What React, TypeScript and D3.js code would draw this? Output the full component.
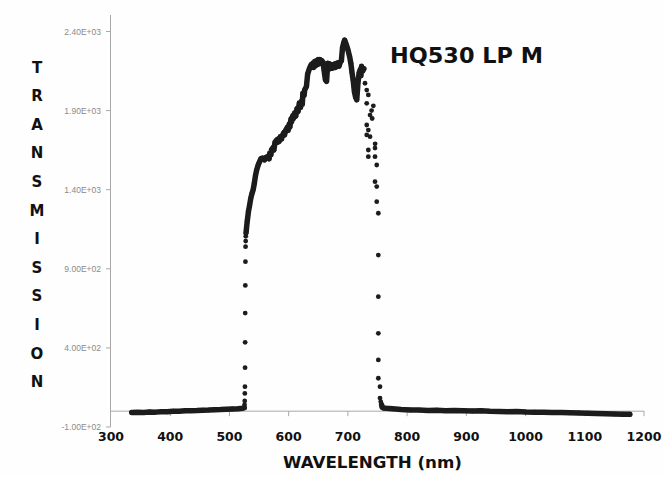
import React from "react";
import * as d3 from "d3";

const TITLE = "HQ530 LP M";
const X_LABEL = "WAVELENGTH (nm)";
const Y_LABEL = "TRANSMISSION";
const X_TICKS = [300, 400, 500, 600, 700, 800, 900, 1000, 1100, 1200];
const Y_TICKS = [2400, 1900, 1400, 900, 400, -100];
const Y_TICK_LABELS = ["2.40E+03", "1.90E+03", "1.40E+03", "9.00E+02", "4.00E+02", "-1.00E+02"];

// dense segments (wavelength nm, transmission)
const leftBaseline: [number, number][] = [
  [335, -8], [345, -7], [355, -8], [365, -5], [375, -6], [385, -3], [395, -4], [405, 0],
  [415, -1], [425, 2], [435, 3], [445, 4], [455, 6], [465, 7], [475, 9], [485, 10],
  [495, 12], [505, 14], [515, 16], [522, 18], [525, 22],
];

const passband: [number, number][] = [
  [528, 1126], [530, 1200], [532, 1260], [534, 1300], [536, 1345], [538, 1375], [540, 1400],
  [542, 1440], [544, 1490], [546, 1525], [548, 1550], [550, 1570], [553, 1595], [556, 1600],
  [559, 1588], [562, 1605], [565, 1610], [567, 1595], [568, 1630], [570, 1620], [571, 1652],
  [574, 1668], [575, 1650], [577, 1700], [580, 1715], [581, 1700], [583, 1722], [584, 1705],
  [586, 1735], [588, 1720], [589, 1740], [592, 1762], [593, 1745], [595, 1775], [598, 1795],
  [599, 1775], [601, 1815], [602, 1795], [604, 1848], [605, 1830], [607, 1868], [608, 1850],
  [610, 1885], [612, 1865], [614, 1912], [616, 1895], [618, 1948], [620, 1920], [622, 1962],
  [623, 1940], [624, 2010], [626, 1995], [627, 2030], [630, 2052], [632, 2130], [635, 2165],
  [638, 2190], [641, 2200], [642, 2172], [644, 2210], [645, 2182], [647, 2215], [648, 2190],
  [650, 2222], [651, 2195], [653, 2222], [656, 2215], [658, 2205], [660, 2150], [662, 2095],
  [664, 2085], [666, 2200], [667, 2175], [669, 2195], [670, 2165], [672, 2190], [674, 2168],
  [675, 2188], [678, 2195], [679, 2172], [681, 2200], [684, 2202], [685, 2180], [687, 2205],
  [689, 2215], [691, 2300], [693, 2330], [694.5, 2346], [697, 2320], [700, 2285], [703, 2240],
  [705, 2200], [707, 2140], [709, 2090], [711, 2020], [713, 1985], [715, 1968], [717, 2075],
  [719, 2140], [721, 2160], [722, 2120], [723, 2180], [725, 2150], [727, 2165],
];

const rightBaseline: [number, number][] = [
  [757, 40], [758, 25], [760, 20], [765, 18], [775, 15], [790, 10], [805, 8], [820, 7],
  [835, 5], [850, 6], [865, 3], [880, 4], [895, 2], [910, 1], [925, 2], [940, -1],
  [955, -2], [970, -3], [985, -2], [1000, -5], [1015, -6], [1030, -7], [1045, -8],
  [1060, -9], [1075, -10], [1090, -11], [1105, -13], [1120, -14], [1135, -16],
  [1150, -18], [1165, -19], [1176, -20],
];

// sparse points on the edges
const risingEdge: [number, number][] = [
  [525.5, 40], [525.8, 65], [526, 112], [526.2, 155], [526.4, 275], [526.5, 435],
  [526.6, 620], [526.8, 795], [527, 945], [527.2, 1040], [527.4, 1075], [527.6, 1105],
];

const fallingEdge: [number, number][] = [
  [728.9, 2073], [731.8, 2030], [734.5, 1999], [731.8, 1946], [737.4, 1872], [740, 1900],
  [741, 1850], [743, 1930], [731.8, 1809], [734.5, 1777], [731.8, 1746], [737.4, 1735],
  [734.5, 1651], [734.5, 1609], [745.8, 1663], [745.8, 1609], [748.7, 1556], [746, 1690],
  [745.8, 1451], [748.7, 1420], [748.7, 1324], [751.4, 1251], [751.4, 987], [751.4, 724],
  [751.4, 492], [751.4, 324], [751.4, 208], [754.2, 155], [754.2, 83], [755.5, 60],
];

const W = 663;
const H = 477;

export default function App() {
  const x = d3.scaleLinear().domain([300, 1200]).range([111, 644]);
  const y = d3.scaleLinear().domain([-100, 2400]).range([427, 31.5]);
  const line = d3
    .line<[number, number]>()
    .x((d) => x(d[0]))
    .y((d) => y(d[1]));
  const ink = "#1c1c1c";
  const axisCol = "#a8a8a8";
  const segs = [leftBaseline, passband, rightBaseline];
  const dots = [...leftBaseline, ...passband, ...rightBaseline, ...risingEdge, ...fallingEdge];

  return (
    <svg
      width={W}
      height={H}
      style={{ position: "absolute", left: 0, top: 0, display: "block", background: "#fff" }}
    >
      <rect x={0} y={0} width={W} height={H} fill="#fefefe" />
      {/* y axis */}
      <line x1={110.5} x2={110.5} y1={15} y2={y(-100)} stroke={axisCol} strokeWidth={1} />
      {Y_TICKS.map((t, i) => (
        <g key={t}>
          <line x1={106} x2={110.5} y1={y(t)} y2={y(t)} stroke={axisCol} />
          <text
            x={101}
            y={y(t) + 3}
            textAnchor="end"
            fontFamily="Liberation Sans, Arial, sans-serif"
            fontSize={8.5}
            fill="#8a8a8a"
          >
            {Y_TICK_LABELS[i]}
          </text>
        </g>
      ))}
      {/* x axis at 0 */}
      <line x1={110.5} x2={x(1200)} y1={y(0)} y2={y(0)} stroke={axisCol} strokeWidth={1} />
      {X_TICKS.map((t) => (
        <g key={t}>
          {t > 300 && <line x1={x(t)} x2={x(t)} y1={y(0)} y2={y(0) + 5} stroke={axisCol} />}
          <text
            x={x(t)}
            y={441}
            textAnchor="middle"
            fontFamily="DejaVu Sans, sans-serif"
            fontWeight="bold"
            fontSize={12.5}
            fill="#111"
          >
            {t}
          </text>
        </g>
      ))}
      {/* data */}
      {segs.map((s, i) => (
        <path
          key={i}
          d={line(s) || ""}
          fill="none"
          stroke={ink}
          strokeWidth={5.5}
          strokeLinejoin="round"
          strokeLinecap="round"
        />
      ))}
      {dots.map((d, i) => (
        <circle key={i} cx={x(d[0])} cy={y(d[1])} r={2.4} fill={ink} />
      ))}
      {/* title */}
      <text
        x={390}
        y={63}
        fontFamily="DejaVu Sans, sans-serif"
        fontWeight="bold"
        fontSize={22}
        textLength={153}
        lengthAdjust="spacingAndGlyphs"
        fill="#111"
      >
        {TITLE}
      </text>
      {/* x label */}
      <text
        x={283}
        y={468}
        fontFamily="DejaVu Sans, sans-serif"
        fontWeight="bold"
        fontSize={16}
        textLength={179}
        lengthAdjust="spacingAndGlyphs"
        fill="#111"
      >
        {X_LABEL}
      </text>
      {/* y label stacked */}
      {Y_LABEL.split("").map((c, i) => (
        <text
          key={i}
          x={37}
          y={67 + i * 28.6 + 5.5}
          textAnchor="middle"
          fontFamily="DejaVu Sans, sans-serif"
          fontWeight="bold"
          fontSize={15}
          fill="#111"
        >
          {c}
        </text>
      ))}
    </svg>
  );
}
